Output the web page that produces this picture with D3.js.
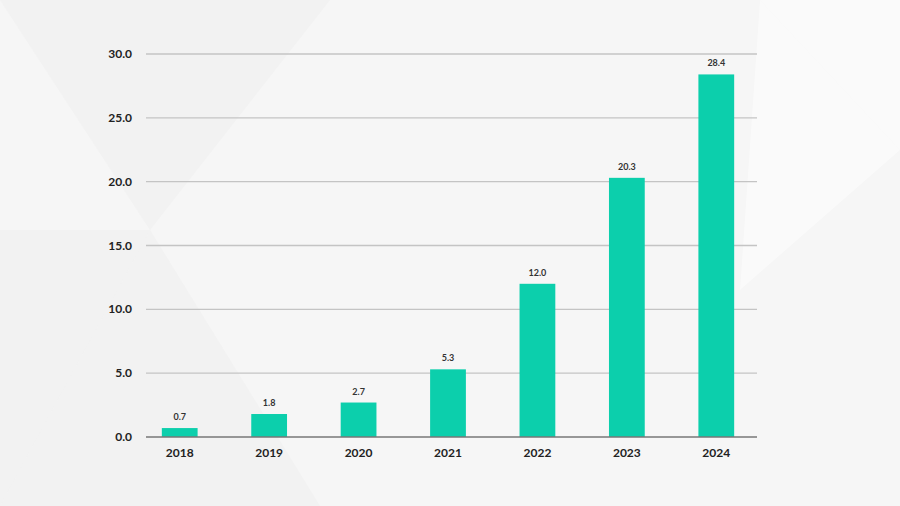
<!DOCTYPE html><html><head><meta charset="utf-8">
<script src="https://cdn.jsdelivr.net/npm/d3@7"></script>
<style>body{margin:0;background:#f6f6f6}</style></head><body>
<svg width="900" height="506"></svg>
<script>
const years=["2018","2019","2020","2021","2022","2023","2024"];
const values=[0.7,1.8,2.7,5.3,12.0,20.3,28.4];
const yTicks=[0,5,10,15,20,25,30];
const svg=d3.select("svg");
svg.append("rect").attr("width",900).attr("height",506).attr("fill","#f6f6f6");
const bg=[[[0,0],[330,0],[150,230]],[[600,0],[760,0],[900,150],[900,0]],[[0,230],[150,230],[0,506]],[[760,0],[900,150],[740,290]],[[150,230],[0,506],[320,506]]];
bg.forEach((p,i)=>svg.append("polygon").attr("points",p.join(" ")).attr("fill",i%2?"#ffffff":"#ededed").attr("opacity",0.45));
const x=d3.scaleBand().domain(years).range([135,761]).paddingInner(0.6).paddingOuter(0.3);
const y=d3.scaleLinear().domain([0,30]).range([437,54]);
const g=svg.append("g");
g.selectAll(".grid").data(yTicks.slice(1)).join("line").attr("x1",146).attr("x2",757)
 .attr("y1",d=>y(d)).attr("y2",d=>y(d)).attr("stroke","#c4c4c4").attr("stroke-width",1.3);
g.selectAll(".yl").data(yTicks).join("text").attr("x",132).attr("y",d=>y(d)+4).attr("text-anchor","end")
 .attr("font-family","Lato, sans-serif").attr("font-weight","bold").attr("font-size",12).attr("fill","#222").text(d=>d.toFixed(1));
g.selectAll(".bar").data(values).join("rect").attr("x",(d,i)=>x(years[i])).attr("width",x.bandwidth())
 .attr("y",d=>y(d)).attr("height",d=>y(0)-y(d)).attr("fill","#0ccfac");
g.append("line").attr("x1",146).attr("x2",757).attr("y1",y(0)).attr("y2",y(0)).attr("stroke","#777").attr("stroke-width",1.3);
g.selectAll(".vl").data(values).join("text").attr("x",(d,i)=>x(years[i])+x.bandwidth()/2).attr("y",d=>y(d)-8)
 .attr("text-anchor","middle").attr("font-family","Lato, sans-serif").attr("font-size",9).attr("font-weight","bold").attr("fill","#333").text(d=>d.toFixed(1));
g.selectAll(".xl").data(years).join("text").attr("x",d=>x(d)+x.bandwidth()/2).attr("y",457)
 .attr("text-anchor","middle").attr("font-family","Lato, sans-serif").attr("font-weight","bold").attr("font-size",12).attr("fill","#222").text(d=>d);
</script></body></html>
